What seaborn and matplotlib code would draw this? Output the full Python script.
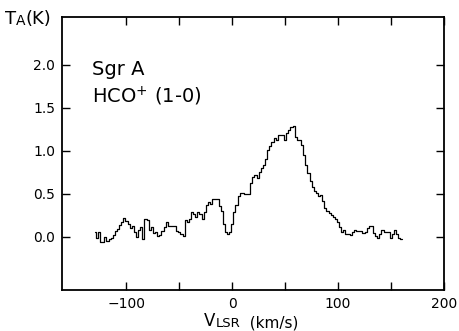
import numpy as np
import pandas as pd
import matplotlib
matplotlib.use("Agg")
import matplotlib.pyplot as plt
from matplotlib.ticker import FixedLocator
import seaborn as sns

# Sgr A HCO+ (1-0) spectrum
v_start = -130.0   # km/s, first channel
chan_width = 2.0   # km/s
ta = [0.05, -0.02, 0.05, -0.06, -0.06, 0.00, -0.05, -0.03, -0.02, 0.02,
      0.07, 0.09, 0.14, 0.17, 0.22, 0.18, 0.15, 0.10, 0.12, 0.05,
      0.00, 0.08, 0.11, -0.03, 0.21, 0.19, 0.08, 0.11, 0.04, 0.05,
      0.01, 0.02, 0.07, 0.11, 0.17, 0.13, 0.13, 0.13, 0.13, 0.07,
      0.05, 0.03, 0.01, 0.19, 0.17, 0.21, 0.29, 0.27, 0.23, 0.29,
      0.27, 0.21, 0.29, 0.37, 0.40, 0.38, 0.44, 0.44, 0.44, 0.36,
      0.30, 0.15, 0.05, 0.03, 0.06, 0.15, 0.29, 0.37, 0.47, 0.51,
      0.51, 0.50, 0.50, 0.50, 0.62, 0.70, 0.72, 0.68, 0.75, 0.80,
      0.84, 0.90, 1.01, 1.06, 1.10, 1.15, 1.13, 1.18, 1.19, 1.19,
      1.13, 1.21, 1.24, 1.28, 1.29, 1.16, 1.13, 1.13, 1.07, 0.95,
      0.84, 0.74, 0.65, 0.58, 0.53, 0.51, 0.47, 0.49, 0.42, 0.34,
      0.30, 0.28, 0.25, 0.23, 0.21, 0.17, 0.11, 0.06, 0.08, 0.03,
      0.03, 0.02, 0.05, 0.08, 0.07, 0.07, 0.07, 0.04, 0.06, 0.10,
      0.13, 0.13, 0.04, 0.01, -0.02, 0.03, 0.08, 0.06, 0.06, 0.05,
      -0.01, 0.03, 0.08, 0.03, -0.01, -0.03]
vlsr = v_start + chan_width * np.arange(len(ta))

df = pd.DataFrame({"vlsr": vlsr, "ta": ta})

sns.set_style("ticks")
plt.rcParams['font.family'] = ['DejaVu Sans']
plt.rcParams['text.color'] = 'black'
plt.rcParams['xtick.color'] = 'black'
plt.rcParams['ytick.color'] = 'black'

fig = plt.figure(figsize=(4.59, 3.31), dpi=100)
ax = fig.add_axes([0.135, 0.124, 0.832, 0.825])

sns.lineplot(data=df, x="vlsr", y="ta", ax=ax, color="black", lw=0.9,
             drawstyle="steps-mid", sort=False)

ax.set_xlim(-161, 200)
ax.set_ylim(-0.62, 2.56)
ax.xaxis.set_major_locator(FixedLocator([-100, 0, 100, 200]))
ax.xaxis.set_minor_locator(FixedLocator([-50, 50, 150]))
ax.yaxis.set_major_locator(FixedLocator([0.0, 0.5, 1.0, 1.5, 2.0]))
ax.set_yticklabels(["0.0", "0.5", "1.0", "1.5", "2.0"])
ax.tick_params(which="both", direction="in", top=True, right=True,
               length=6, width=1.0, color="black", labelsize=10, pad=5)
for s in ax.spines.values():
    s.set_linewidth(1.3)
    s.set_color("black")
ax.set_xlabel("")
ax.set_ylabel("")

ax.text(0.079, 0.787, "Sgr A", transform=ax.transAxes, fontsize=14)
ax.text(0.079, 0.685, r"HCO$^{+}$ (1-0)", transform=ax.transAxes, fontsize=14)

# axis labels with small-cap subscripts
t1 = fig.text(0.011, 0.915, "T", fontsize=13, va="bottom")
t2 = ax.annotate("A", xy=(1, 0), xycoords=t1, fontsize=10, va="bottom",
                 annotation_clip=False)
ax.annotate("(K)", xy=(1, 0), xycoords=t2, fontsize=13, va="bottom",
            annotation_clip=False)

v1 = fig.text(0.445, 0.003, "V", fontsize=12, va="bottom")
v2 = ax.annotate("LSR", xy=(1, 0), xycoords=v1, fontsize=9.5, va="bottom",
                 annotation_clip=False)
ax.annotate("  (km/s)", xy=(1, 0), xycoords=v2, fontsize=11, va="bottom",
            annotation_clip=False)

fig.savefig("out.png", dpi=100)
